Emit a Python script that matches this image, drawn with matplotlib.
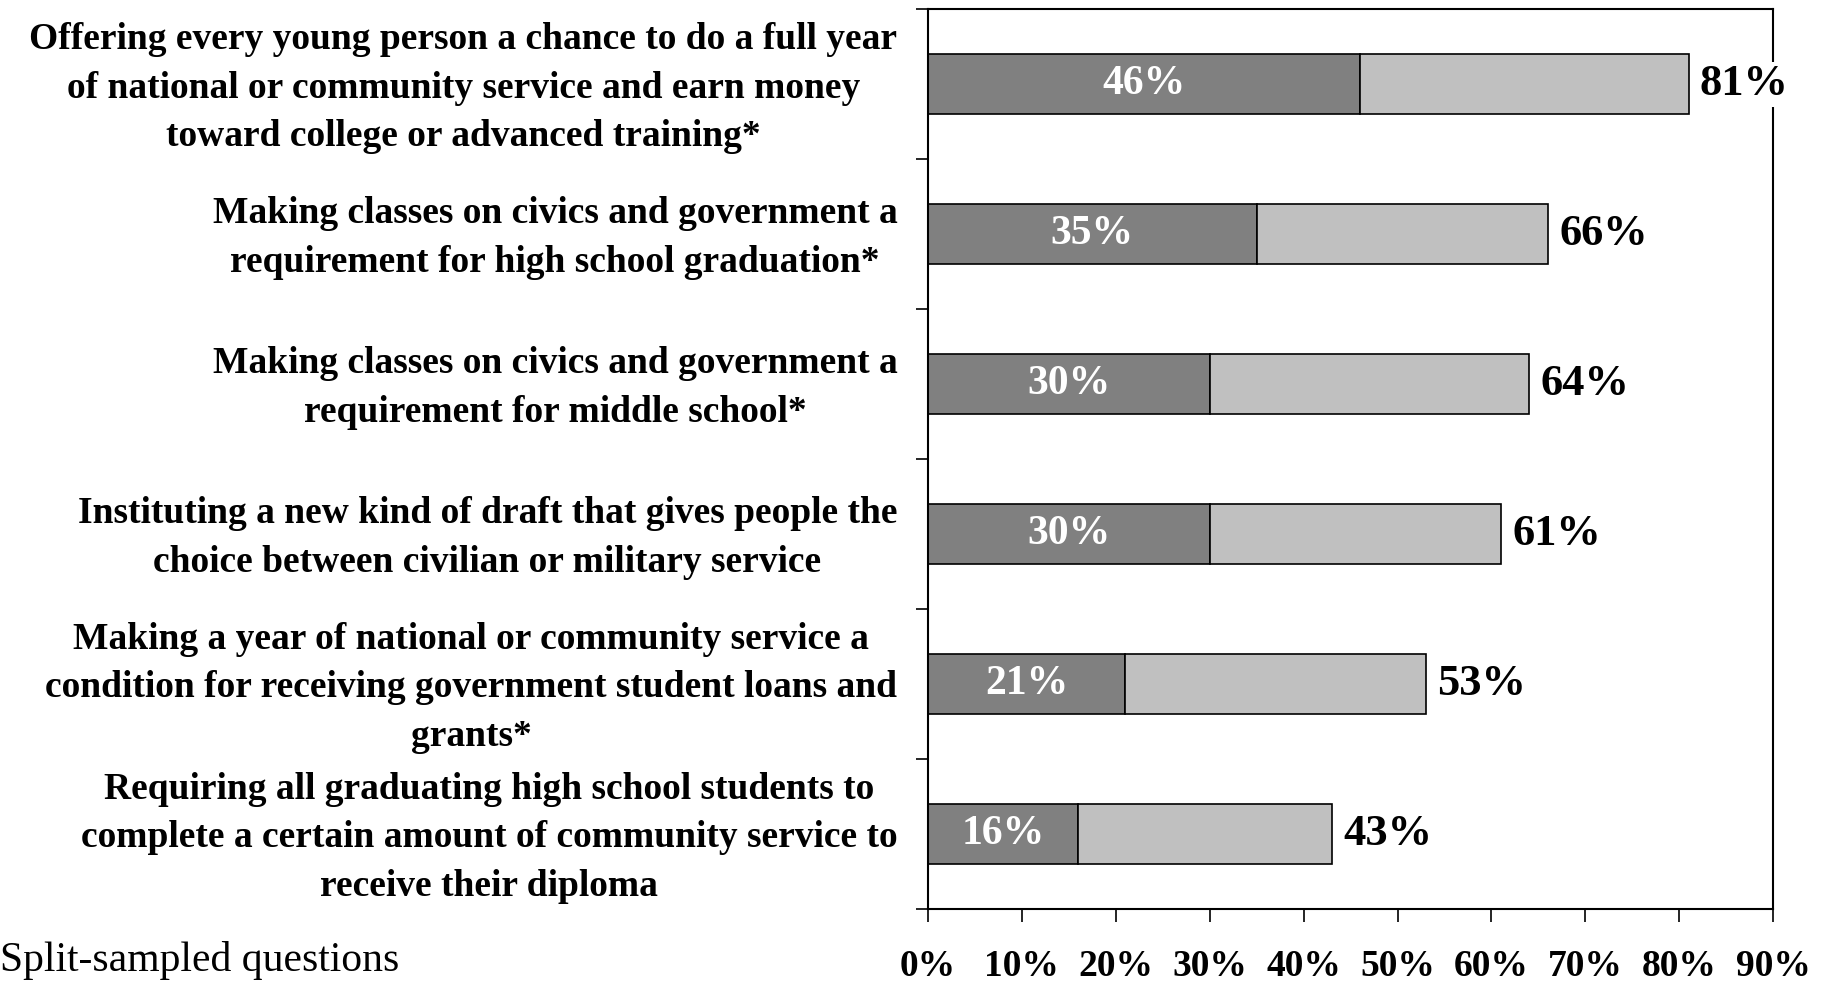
import matplotlib.pyplot as plt
import matplotlib.transforms as mtransforms
import numpy as np

# data
items = [
    "Offering every young person a chance to do a full year\nof national or community service and earn money\ntoward college or advanced training*",
    "Making classes on civics and government a\nrequirement for high school graduation*",
    "Making classes on civics and government a\nrequirement for middle school*",
    "Instituting a new kind of draft that gives people the\nchoice between civilian or military service",
    "Making a year of national or community service a\ncondition for receiving government student loans and\ngrants*",
    "Requiring all graduating high school students to\ncomplete a certain amount of community service to\nreceive their diploma",
]
strong = [46, 35, 30, 30, 21, 16]   # strongly favor
total = [81, 66, 64, 61, 53, 43]    # total favor
xticks = [0, 10, 20, 30, 40, 50, 60, 70, 80, 90]

plt.rcParams['font.family'] = ['Liberation Serif', 'DejaVu Serif']

fig = plt.figure(figsize=(18.3, 9.85), dpi=100)
ax = fig.add_axes([0.507, 0.0772, 0.462, 0.9133])

y = np.arange(len(items))
rest = [t - s for t, s in zip(total, strong)]
ax.barh(y, strong, height=0.4, color='#808080', edgecolor='black', linewidth=1.2)
ax.barh(y, rest, left=strong, height=0.4, color='#C0C0C0', edgecolor='black', linewidth=1.2)

for i in range(len(items)):
    ax.text(strong[i] / 2, y[i], f"{strong[i]}%", ha='center', va='center',
            color='white', fontsize=30, fontweight='bold')
    ax.text(total[i] + 1.2, y[i], f"{total[i]}%", ha='left', va='center',
            color='black', fontsize=32, fontweight='bold',
            bbox=dict(facecolor='white', edgecolor='none', pad=2), zorder=5)

ax.set_xlim(0, 90)
ax.set_ylim(len(items) - 0.5, -0.5)
ax.set_xticks(xticks)
ax.set_xticklabels([f"{v}%" for v in xticks], fontsize=27, fontweight='bold')
ax.tick_params(axis='x', direction='out', length=9, width=1.2, pad=20)

# tick marks at category boundaries, labels at bar centres
ax.set_yticks(np.arange(len(items) + 1) - 0.5)
ax.set_yticklabels([])
ax.set_yticks(y, minor=True)
ax.set_yticklabels(items, minor=True, fontsize=27, fontweight='bold',
                   linespacing=1.5)
ax.tick_params(axis='y', which='major', direction='out', length=9, width=1.2)
ax.tick_params(axis='y', which='minor', length=0, pad=22)
lift = mtransforms.ScaledTranslation(0, 5 / 72, fig.dpi_scale_trans)
for lab in ax.get_yticklabels(minor=True):
    lab.set_multialignment('center')
    lab.set_transform(lab.get_transform() + lift)

for s in ax.spines.values():
    s.set_linewidth(1.5)

fig.text(0.0, 0.014, "Split-sampled questions", fontsize=30, ha='left', va='baseline')

fig.savefig('out.png', dpi=100)
